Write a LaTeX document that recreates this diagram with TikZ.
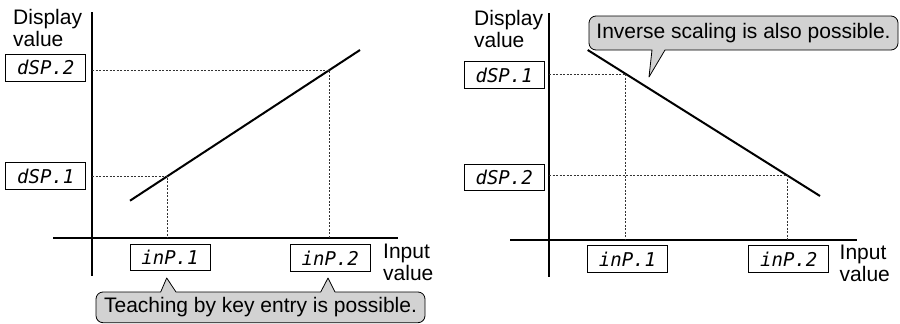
\documentclass[tikz,border=0pt]{standalone}
\usepackage{fontspec}
\setmainfont{Liberation Sans}
\newfontfamily\segfont{DejaVu Sans Mono}
\usetikzlibrary{positioning,calc}

\begin{document}
\begin{tikzpicture}[
  x=1pt, y=-1pt,
  seg/.style={draw, line width=0.8pt, minimum width=80pt, minimum height=26.5pt, inner sep=0pt, font=\segfont\itshape\fontsize{19}{19}\selectfont},
  lbl/.style={align=left, inner sep=0pt, anchor=north west, font=\fontsize{21}{22}\selectfont},
  note/.style={inner sep=0pt, font=\fontsize{21}{22}\selectfont},
  axis/.style={line width=2pt},
  guide/.style={line width=0.7pt, dash pattern=on 2pt off 1.5pt, black!80},
  curve/.style={line width=2pt},
  bubble/.style={draw, line width=0.8pt, fill=gray!35, line join=round}
]
\useasboundingbox (0,0) rectangle (900,324);

% left: normal scaling
\node[seg] (d2L) at (45.8,67.7) {dSP.2};
\node[seg] (d1L) at (45.8,176) {dSP.1};
\node[seg] (i1L) at (170,257.5) {inP.1};
\node[seg] (i2L) at (330.3,258) {inP.2};
\node[lbl] (yL) at (13,9) {Display\\value};
\node[lbl] (xL) at (383,244) {Input\\value};
\coordinate (oL) at (92,238);
\draw[axis] (92,12) -- (92,276);
\draw[axis] (53,238) -- (398,238);
\coordinate (aL) at (130,200.7);
\coordinate (bL) at (360,50);
\draw[curve] (aL) -- (bL);
\coordinate (p1L) at ($(aL)!0.163!(bL)$);
\coordinate (p2L) at ($(aL)!0.865!(bL)$);
\draw[guide] (p1L -| oL) -- (p1L) -- (p1L |- oL);
\draw[guide] (p2L -| oL) -- (p2L) -- (p2L |- oL);
\draw[bubble] (166.7,278) -- (176,292) -- (320.7,292) -- (328,278) -- (335,292)
  [rounded corners=7pt] -- (425,292) -- (425,322.7) -- (96,322.7) -- (96,292)
  [sharp corners] -- (160.7,292) -- cycle;
\node[note] (teach) at (260.5,307.5) {Teaching by key entry is possible.};

% right: inverse scaling
\node[seg] (d1R) at (504.2,75) {dSP.1};
\node[seg] (d2R) at (504.2,177.3) {dSP.2};
\node[seg] (i1R) at (627.5,259) {inP.1};
\node[seg] (i2R) at (788.8,259) {inP.2};
\node[lbl] (yR) at (474,10) {Display\\value};
\node[lbl] (xR) at (839.5,244.5) {Input\\value};
\coordinate (oR) at (549,240);
\draw[axis] (549,13) -- (549,277);
\draw[axis] (510,240) -- (857,240);
\coordinate (aR) at (587.7,50);
\coordinate (bR) at (820,196);
\draw[curve] (aR) -- (bR);
\coordinate (p1R) at ($(aR)!0.164!(bR)$);
\coordinate (p2R) at ($(aR)!0.859!(bR)$);
\draw[guide] (p1R -| oR) -- (p1R) -- (p1R |- oR);
\draw[guide] (p2R -| oR) -- (p2R) -- (p2R |- oR);
\draw[bubble] (649,77) -- (652,50) [rounded corners=7pt] -- (589,50) -- (589,16)
  -- (898,16) -- (898,50) [sharp corners] -- (665,50) -- cycle;
\node[note] (inv) at (743.5,33) {Inverse scaling is also possible.};
\end{tikzpicture}
\end{document}
